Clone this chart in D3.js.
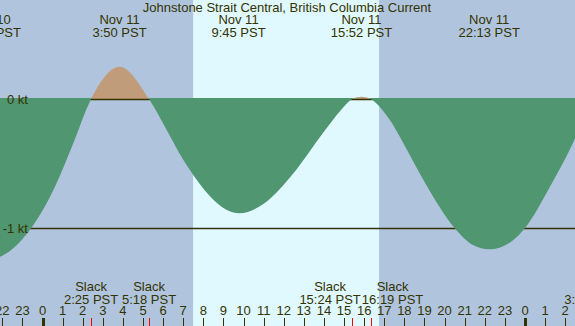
<!DOCTYPE html>
<html>
<head>
<meta charset="utf-8">
<script src="https://cdn.jsdelivr.net/npm/d3@7"></script>
<style>
  body { margin: 0; padding: 0; }
  svg { display: block; font-family: "Liberation Sans", Arial, sans-serif; font-size: 13px; }
</style>
</head>
<body>
<svg id="chart" width="575" height="326"></svg>
<script>
// current readings, hours from Nov 11 00:00 PST, speed in knots (flood +, ebb -)
var hours  = [-2.6, -2.11, -0.56, 0.62, 1.53, 2.417, 3.833, 5.3, 6.09, 7.01, 9.8, 11.02, 12.48, 13.94, 14.85,
              15.4, 15.867, 16.317, 17.22, 17.95, 19.04, 20.5, 21.41, 22.217, 23.42, 24.0, 25.24, 26.49, 27.3];
var speeds = [-1.24, -1.222, -1.0, -0.68, -0.343, 0, 0.25, 0, -0.215, -0.473, -0.886, -0.81, -0.576, -0.266, -0.085,
              0, 0.018, 0, -0.15, -0.343, -0.653, -1.0, -1.132, -1.165, -1.093, -1.0, -0.68, -0.305, 0];

// max flood / max ebb labels
var peakHours = [-2.6, 3.833, 9.75, 15.867, 22.217];
var peakDates = ["Nov 10", "Nov 11", "Nov 11", "Nov 11", "Nov 11"];
var peakTimes = ["21:24 PST", "3:50 PST", "9:45 PST", "15:52 PST", "22:13 PST"];

// slack water
var slackHours = [2.417, 5.3, 15.4, 16.317, 27.3];
var slackTimes = ["2:25 PST", "5:18 PST", "15:24 PST", "16:19 PST", "3:18 PST"];

// daylight
var sunrise = 7.49, sunset = 16.74;

var hourTicks = d3.range(-2, 27);
var levelLines = [0, -1];
var levelLabels = ["0 kt", "-1 kt"];

var svg = d3.select("#chart"),
    width = +svg.attr("width"),
    height = +svg.attr("height"),
    ink = "#333300";

var x = d3.scaleLinear().domain([0, 24]).range([42.5, 525]);
var y = d3.scaleLinear().domain([0, -1]).range([99, 228]);

var pts = hours.map(function (h, i) { return [h, speeds[i]]; });

// night / day background
svg.append("rect").attr("width", width).attr("height", height).attr("fill", "#b0c4de");
svg.append("rect")
    .attr("x", x(sunrise)).attr("y", 0)
    .attr("width", x(sunset) - x(sunrise)).attr("height", height)
    .attr("fill", "#e0f8ff");

var defs = svg.append("defs");
defs.append("clipPath").attr("id", "above")
    .append("rect").attr("x", 0).attr("y", 0).attr("width", width).attr("height", y(0));
defs.append("clipPath").attr("id", "below")
    .append("rect").attr("x", 0).attr("y", y(0) - 1).attr("width", width).attr("height", height);

var area = d3.area()
    .x(function (d) { return x(d[0]); })
    .y0(y(0))
    .y1(function (d) { return y(d[1]); })
    .curve(d3.curveMonotoneX);

// flood part
svg.append("path").datum(pts)
    .attr("clip-path", "url(#above)")
    .attr("fill", "#c09c7a")
    .attr("d", area);

// knot lines sit under the ebb fill
svg.selectAll(".level").data(levelLines).enter().append("line")
    .attr("x1", 0).attr("x2", width)
    .attr("y1", function (d) { return Math.round(y(d)) + 0.5; })
    .attr("y2", function (d) { return Math.round(y(d)) + 0.5; })
    .attr("stroke", ink).attr("stroke-width", 1.3);

// ebb part
svg.append("path").datum(pts)
    .attr("clip-path", "url(#below)")
    .attr("fill", "#509670")
    .attr("d", area.y0(y(0) - 1));

svg.selectAll(".lvlLabel").data(levelLabels).enter().append("text")
    .attr("x", 28).attr("text-anchor", "end")
    .attr("y", function (d, i) { return y(levelLines[i]) + 5; })
    .attr("fill", ink)
    .text(function (d) { return d; });

// title
svg.append("text")
    .attr("x", 287).attr("y", 12).attr("text-anchor", "middle")
    .attr("fill", ink)
    .text("Johnstone Strait Central, British Columbia Current");

// peak labels
var peaks = svg.selectAll(".peak").data(peakHours).enter().append("g");
peaks.append("text")
    .attr("x", function (d) { return x(d); }).attr("y", 24)
    .attr("text-anchor", "middle").attr("fill", ink)
    .text(function (d, i) { return peakDates[i]; });
peaks.append("text")
    .attr("x", function (d) { return x(d); }).attr("y", 37)
    .attr("text-anchor", "middle").attr("fill", ink)
    .text(function (d, i) { return peakTimes[i]; });

// hour axis
svg.selectAll(".tick").data(hourTicks).enter().append("line")
    .attr("x1", function (d) { return Math.round(x(d)) + 0.5; })
    .attr("x2", function (d) { return Math.round(x(d)) + 0.5; })
    .attr("y1", 318).attr("y2", height)
    .attr("stroke", ink)
    .attr("stroke-width", function (d) { return (d % 24 === 0) ? 3 : 1; });

svg.selectAll(".hourLabel").data(hourTicks).enter().append("text")
    .attr("x", function (d) { return x(d); }).attr("y", 315)
    .attr("text-anchor", "middle").attr("fill", ink)
    .text(function (d) { return (d + 24) % 24; });

svg.selectAll(".slackTick").data(slackHours).enter().append("line")
    .attr("x1", function (d) { return Math.round(x(d)) + 0.5; })
    .attr("x2", function (d) { return Math.round(x(d)) + 0.5; })
    .attr("y1", 318).attr("y2", height)
    .attr("stroke", "#ff0000");

// slack labels, pushed apart when they collide
var slacks = svg.selectAll(".slack").data(slackHours).enter().append("g");
var slackTop = slacks.append("text").attr("y", 291).attr("text-anchor", "middle").attr("fill", ink)
    .text("Slack");
var slackBot = slacks.append("text").attr("y", 304).attr("text-anchor", "middle").attr("fill", ink)
    .text(function (d, i) { return slackTimes[i]; });

var cx = slackHours.map(function (h) { return x(h); });
var w = slackBot.nodes().map(function (n) { return n.getComputedTextLength(); });
for (var i = 0; i < cx.length - 1; i++) {
    var need = (w[i] + w[i + 1]) / 2 + 1;
    var gap = cx[i + 1] - cx[i];
    if (gap < need) {
        cx[i] -= (need - gap) / 2;
        cx[i + 1] += (need - gap) / 2;
    }
}
slackTop.attr("x", function (d, i) { return cx[i]; });
slackBot.attr("x", function (d, i) { return cx[i]; });
</script>
</body>
</html>
